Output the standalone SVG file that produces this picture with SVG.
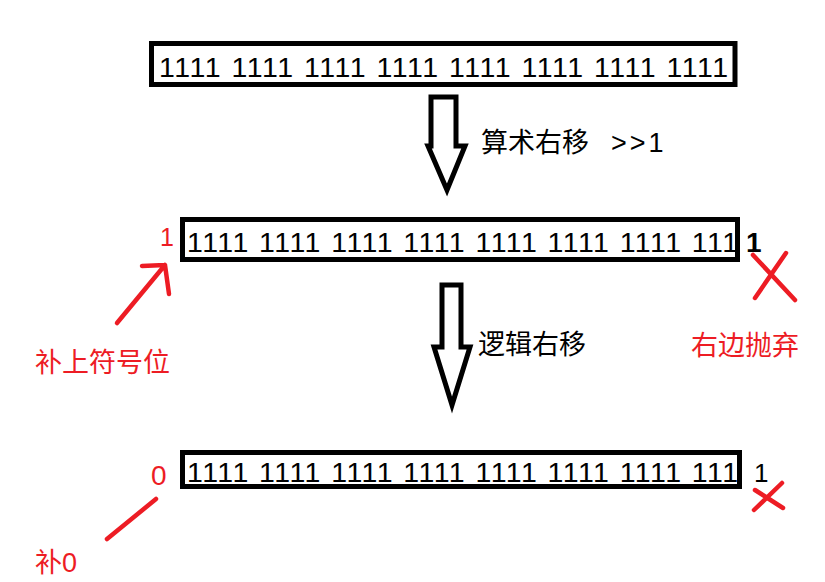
<svg xmlns="http://www.w3.org/2000/svg" width="825" height="582" viewBox="0 0 825 582">
<style>
.box{fill:#fff;stroke:#000;stroke-width:5}
.bits{font-family:"Liberation Sans",Arial,sans-serif;font-size:28.5px;fill:#000}
.red{fill:#ED1C24}
.cjk{font-family:"Liberation Sans","Noto Sans CJK SC",sans-serif;font-size:27px}
.num{font-family:"Liberation Sans",Arial,sans-serif}
.arrow{fill:none;stroke:#000;stroke-width:5;stroke-linejoin:miter}
.rl{fill:none;stroke:#ED1C24;stroke-width:4.5;stroke-linecap:round;stroke-linejoin:round}
</style>
<rect width="825" height="582" fill="#fff"/>
<g id="box1">
<rect class="box" x="151.5" y="43.5" width="583.5" height="41"/>
<text class="bits" x="159" y="77" textLength="569" lengthAdjust="spacing">1111 1111 1111 1111 1111 1111 1111 1111</text>
</g>
<g id="box2">
<rect class="box" x="182.5" y="219.5" width="555" height="40"/>
<text class="bits" x="187" y="252" textLength="551" lengthAdjust="spacing">1111 1111 1111 1111 1111 1111 1111 111</text>
<text class="num red" x="160" y="246" font-size="25">1</text>
<text class="num" x="746" y="252" font-size="28" font-weight="bold">1</text>
</g>
<g id="box3">
<rect class="box" x="182.5" y="452.5" width="557" height="34"/>
<text class="bits" x="187" y="482" textLength="551" lengthAdjust="spacing">1111 1111 1111 1111 1111 1111 1111 111</text>
<text class="num red" x="151" y="485" font-size="28">0</text>
<text class="num" x="754" y="482" font-size="26">1</text>
</g>
<g id="connectors">
<polygon class="arrow" points="431,97 456,97 456,146 465,146 447,190 428,146 431,146"/>
<polygon class="arrow" points="442,285 461,285 461,347 470,347 452,405 434,347 442,347"/>
<path class="rl" d="M117,323 L165,265 M142,266 L165,265 L169,294"/>
<path class="rl" d="M107,539 L156,499"/>
<path class="rl" d="M753,255 L795,300 M786,253 L755,298"/>
<path class="rl" d="M754,510 L782,483 M755,490 L783,508"/>
</g>
<g id="labels">
<text class="cjk" x="481" y="152">算术右移<tspan x="611" letter-spacing="3">&gt;&gt;1</tspan></text>
<text class="cjk" x="478" y="354">逻辑右移</text>
<text class="cjk red" x="35" y="372" font-size="26.5">补上符号位</text>
<text class="cjk red" x="691" y="355" font-size="26.5">右边抛弃</text>
<text class="cjk red" x="35" y="572" font-size="26.5">补0</text>
</g>
</svg>
